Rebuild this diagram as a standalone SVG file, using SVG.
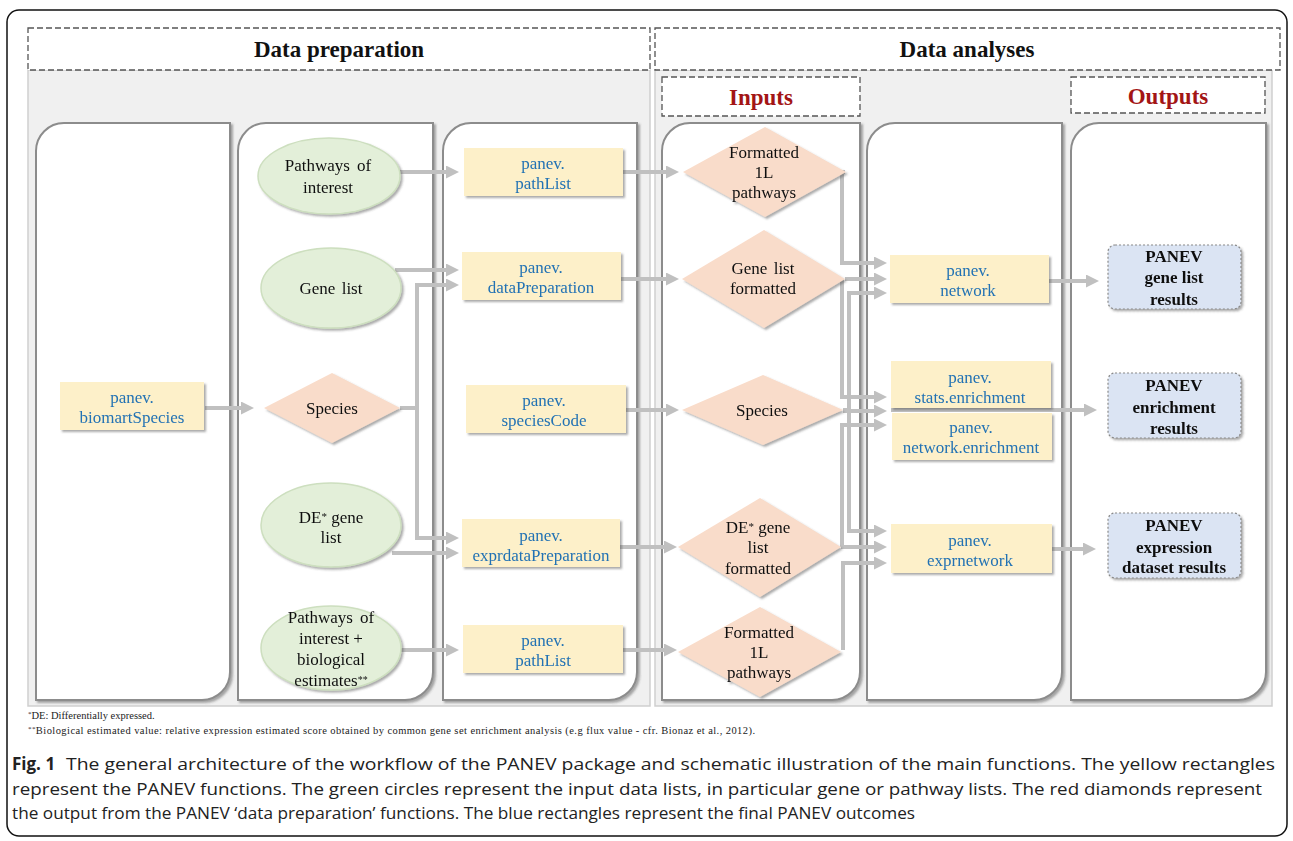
<svg xmlns="http://www.w3.org/2000/svg" width="1293" height="841" viewBox="0 0 1293 841">
<defs>
<style>
.hdr{font-family:"Liberation Serif",serif;font-weight:bold;font-size:23px;fill:#111;text-anchor:middle}
.sub{font-family:"Liberation Serif",serif;font-weight:bold;font-size:23px;fill:#a31515;text-anchor:middle}
.dash{fill:#fff;stroke:#555;stroke-width:1.3;stroke-dasharray:6 3}
.bg{fill:#f0f0f0;stroke:#cfcfcf;stroke-width:1.5}
.col{fill:#fff;stroke:#8c8c8c;stroke-width:2}
.fn{fill:#fdf0c9}
.fnt{font-family:"Liberation Serif",serif;font-size:17px;fill:#2272b4;text-anchor:middle}
.ell{fill:#e3efd9;stroke:#cddfbf;stroke-width:1.5}
.dia{fill:#f9dcca}
.nt{font-family:"Liberation Serif",serif;font-size:17px;fill:#111;text-anchor:middle}
.out{fill:#dbe4f3;stroke:#8a8a8a;stroke-width:1.2;stroke-dasharray:2 2}
.ot{font-family:"Liberation Serif",serif;font-weight:bold;font-size:17px;fill:#111;text-anchor:middle}
.cn{fill:none;stroke:#c0c0c0;stroke-width:4;marker-end:url(#ah)}
.foot{font-family:"Liberation Serif",serif;font-size:10.5px;fill:#222}
.cap{font-family:"Open Sans",sans-serif;font-size:17px;fill:#222}
</style>
<marker id="ah" markerUnits="userSpaceOnUse" markerWidth="13" markerHeight="13" refX="7" refY="6.5" orient="auto">
<path d="M0,0 L13,6.5 L0,13 Z" fill="#c0c0c0"/>
</marker>
<filter id="sh" x="-10%" y="-10%" width="130%" height="130%">
<feDropShadow dx="2" dy="2" stdDeviation="1.2" flood-color="#444" flood-opacity="0.45"/>
</filter>
</defs>

<rect x="7" y="10" width="1280" height="826" rx="12" fill="#fff" stroke="#111" stroke-width="1.5"/>

<g id="backgrounds">
<rect class="bg" x="28" y="70" width="622" height="636"/>
<rect class="bg" x="655" y="70" width="617" height="636"/>
</g>

<g id="headers">
<rect class="dash" x="28" y="28" width="622" height="42"/>
<text class="hdr" x="339" y="57">Data preparation</text>
<rect class="dash" x="655" y="28" width="625" height="42"/>
<text class="hdr" x="967" y="57">Data analyses</text>
<rect class="dash" x="662" y="77" width="198" height="39"/>
<text class="sub" x="761" y="105">Inputs</text>
<rect class="dash" x="1071" y="77" width="194" height="36"/>
<text class="sub" x="1168" y="104">Outputs</text>
</g>

<g id="columns" filter="url(#sh)">
<path class="col" d="M64,123 H230 V672 A28,28 0 0 1 202,700 H36 V151 A28,28 0 0 1 64,123 Z"/>
<path class="col" d="M266,123 H433 V672 A28,28 0 0 1 405,700 H238 V151 A28,28 0 0 1 266,123 Z"/>
<path class="col" d="M471,123 H637 V672 A28,28 0 0 1 609,700 H443 V151 A28,28 0 0 1 471,123 Z"/>
<path class="col" d="M690,123 H860 V672 A28,28 0 0 1 832,700 H662 V151 A28,28 0 0 1 690,123 Z"/>
<path class="col" d="M895,123 H1062 V672 A28,28 0 0 1 1034,700 H867 V151 A28,28 0 0 1 895,123 Z"/>
<path class="col" d="M1099,123 H1266 V672 A28,28 0 0 1 1238,700 H1071 V151 A28,28 0 0 1 1099,123 Z"/>
</g>

<g id="connectors">
<path class="cn" d="M205,408 H248"/>
<path class="cn" d="M399,172 H453"/>
<path class="cn" d="M395,270 H453"/>
<path class="cn" d="M400,408 H417 V285 H453"/>
<path class="cn" d="M417,408 V538 H453"/>
<path class="cn" d="M392,553 H453"/>
<path class="cn" d="M401,650 H453"/>
<path class="cn" d="M623,172 H673"/>
<path class="cn" d="M621,279 H673"/>
<path class="cn" d="M626,410 H673"/>
<path class="cn" d="M620,547 H671"/>
<path class="cn" d="M623,650 H671"/>
<path class="cn" d="M845,172 H842 V263 H881"/>
<path class="cn" d="M845,279 H881"/>
<path class="cn" d="M843,410 H849 V293 H881"/>
<path class="cn" d="M842,279 V397 H881"/>
<path class="cn" d="M843,411 H881"/>
<path class="cn" d="M842,547 V425 H881"/>
<path class="cn" d="M849,410 V531 H881"/>
<path class="cn" d="M841,547 H881"/>
<path class="cn" d="M843,650 V563 H881"/>
<path class="cn" d="M1049,281 H1093"/>
<path class="cn" d="M891,410 H1091"/>
<path class="cn" d="M1052,549 H1090"/>
</g>

<g id="n-biomartSpecies" filter="url(#sh)">
<rect class="fn" x="60" y="382" width="144" height="48"/>
<text class="fnt" x="132" y="403">panev.</text>
<text class="fnt" x="132" y="423">biomartSpecies</text>
</g>

<g id="n-pathways" filter="url(#sh)">
<ellipse class="ell" cx="329" cy="176" rx="71" ry="38"/>
<text class="nt" x="328" y="171" word-spacing="3">Pathways of</text>
<text class="nt" x="328" y="193">interest</text>
</g>
<g id="n-genelist" filter="url(#sh)">
<ellipse class="ell" cx="331" cy="288" rx="70" ry="40"/>
<text class="nt" x="331" y="294" word-spacing="2">Gene list</text>
</g>
<g id="n-species1" filter="url(#sh)">
<path class="dia" d="M332,373 L400,408 L332,443 L264,408 Z"/>
<text class="nt" x="332" y="414">Species</text>
</g>
<g id="n-degenelist" filter="url(#sh)">
<ellipse class="ell" cx="331" cy="525" rx="70" ry="42"/>
<text class="nt" x="331" y="523">DE<tspan font-size="11" dy="-3">*</tspan><tspan dy="3"> gene</tspan></text>
<text class="nt" x="331" y="543">list</text>
</g>
<g id="n-pathbio" filter="url(#sh)">
<ellipse class="ell" cx="331" cy="648" rx="70" ry="42"/>
<text class="nt" x="331" y="623" word-spacing="3">Pathways of</text>
<text class="nt" x="331" y="644">interest +</text>
<text class="nt" x="331" y="665">biological</text>
<text class="nt" x="331" y="686">estimates<tspan font-size="10" dy="-3">**</tspan></text>
</g>

<g id="n-pathList1" filter="url(#sh)">
<rect class="fn" x="464" y="148" width="159" height="48"/>
<text class="fnt" x="543" y="169">panev.</text>
<text class="fnt" x="543" y="189">pathList</text>
</g>
<g id="n-dataPreparation" filter="url(#sh)">
<rect class="fn" x="462" y="252" width="159" height="48"/>
<text class="fnt" x="541" y="273">panev.</text>
<text class="fnt" x="541" y="293">dataPreparation</text>
</g>
<g id="n-speciesCode" filter="url(#sh)">
<rect class="fn" x="466" y="385" width="160" height="48"/>
<text class="fnt" x="544" y="406">panev.</text>
<text class="fnt" x="544" y="426">speciesCode</text>
</g>
<g id="n-exprdataPreparation" filter="url(#sh)">
<rect class="fn" x="462" y="519" width="158" height="48"/>
<text class="fnt" x="541" y="541">panev.</text>
<text class="fnt" x="541" y="561">exprdataPreparation</text>
</g>
<g id="n-pathList2" filter="url(#sh)">
<rect class="fn" x="463" y="625" width="160" height="48"/>
<text class="fnt" x="543" y="646">panev.</text>
<text class="fnt" x="543" y="666">pathList</text>
</g>

<g id="n-formatted1" filter="url(#sh)">
<path class="dia" d="M765,127 L846,172 L765,217 L683,172 Z"/>
<text class="nt" x="764" y="158">Formatted</text>
<text class="nt" x="764" y="178">1L</text>
<text class="nt" x="764" y="198">pathways</text>
</g>
<g id="n-genelistformatted" filter="url(#sh)">
<path class="dia" d="M764,230 L845,279 L764,328 L682,279 Z"/>
<text class="nt" x="763" y="274" word-spacing="2">Gene list</text>
<text class="nt" x="763" y="294">formatted</text>
</g>
<g id="n-species2" filter="url(#sh)">
<path class="dia" d="M763,375 L843,410 L763,445 L682,410 Z"/>
<text class="nt" x="762" y="416">Species</text>
</g>
<g id="n-degenelistformatted" filter="url(#sh)">
<path class="dia" d="M760,498 L841,547 L760,597 L678,547 Z"/>
<text class="nt" x="758" y="533">DE<tspan font-size="11" dy="-3">*</tspan><tspan dy="3"> gene</tspan></text>
<text class="nt" x="758" y="553">list</text>
<text class="nt" x="758" y="574">formatted</text>
</g>
<g id="n-formatted2" filter="url(#sh)">
<path class="dia" d="M760,607 L841,652 L760,697 L678,652 Z"/>
<text class="nt" x="759" y="638">Formatted</text>
<text class="nt" x="759" y="658">1L</text>
<text class="nt" x="759" y="678">pathways</text>
</g>

<g id="n-network" filter="url(#sh)">
<rect class="fn" x="890" y="255" width="159" height="48"/>
<text class="fnt" x="968" y="276">panev.</text>
<text class="fnt" x="968" y="296">network</text>
</g>
<g id="n-statsenrichment" filter="url(#sh)">
<rect class="fn" x="891" y="361" width="160" height="47"/>
<text class="fnt" x="970" y="383">panev.</text>
<text class="fnt" x="970" y="403">stats.enrichment</text>
</g>
<g id="n-networkenrichment" filter="url(#sh)">
<rect class="fn" x="892" y="413" width="160" height="47"/>
<text class="fnt" x="971" y="433">panev.</text>
<text class="fnt" x="971" y="453">network.enrichment</text>
</g>
<g id="n-exprnetwork" filter="url(#sh)">
<rect class="fn" x="891" y="524" width="161" height="49"/>
<text class="fnt" x="970" y="546">panev.</text>
<text class="fnt" x="970" y="566">exprnetwork</text>
</g>

<g id="n-genelistresults" filter="url(#sh)">
<rect class="out" x="1108" y="245" width="133" height="64" rx="7"/>
<text class="ot" x="1174" y="262">PANEV</text>
<text class="ot" x="1174" y="283">gene list</text>
<text class="ot" x="1174" y="305">results</text>
</g>
<g id="n-enrichmentresults" filter="url(#sh)">
<rect class="out" x="1108" y="373" width="133" height="65" rx="7"/>
<text class="ot" x="1174" y="391">PANEV</text>
<text class="ot" x="1174" y="413">enrichment</text>
<text class="ot" x="1174" y="434">results</text>
</g>
<g id="n-expressionresults" filter="url(#sh)">
<rect class="out" x="1108" y="513" width="133" height="65" rx="7"/>
<text class="ot" x="1174" y="531">PANEV</text>
<text class="ot" x="1174" y="553">expression</text>
<text class="ot" x="1174" y="573">dataset results</text>
</g>

<g id="footnotes">
<text class="foot" x="28" y="719"><tspan font-size="7" dy="-3">*</tspan><tspan dy="3">DE: Differentially  expressed.</tspan></text>
<text class="foot" x="28" y="734" textLength="727" lengthAdjust="spacing"><tspan font-size="7" dy="-3">**</tspan><tspan dy="3">Biological estimated value: relative expression estimated score obtained by common gene set enrichment analysis (e.g flux value - cfr. Bionaz et al., 2012).</tspan></text>
</g>

<g id="caption">
<text class="cap" x="12" y="770" font-weight="bold">Fig. 1</text>
<text class="cap" x="66" y="770" textLength="1209" lengthAdjust="spacingAndGlyphs">The general architecture of the workflow of the PANEV package and schematic illustration of the main functions. The yellow rectangles</text>
<text class="cap" x="12" y="795" textLength="1250" lengthAdjust="spacingAndGlyphs">represent the PANEV functions. The green circles represent the input data lists, in particular gene or pathway lists. The red diamonds represent</text>
<text class="cap" x="12" y="819" textLength="903" lengthAdjust="spacingAndGlyphs">the output from the PANEV ‘data preparation’ functions. The blue rectangles represent the final PANEV outcomes</text>
</g>
</svg>
